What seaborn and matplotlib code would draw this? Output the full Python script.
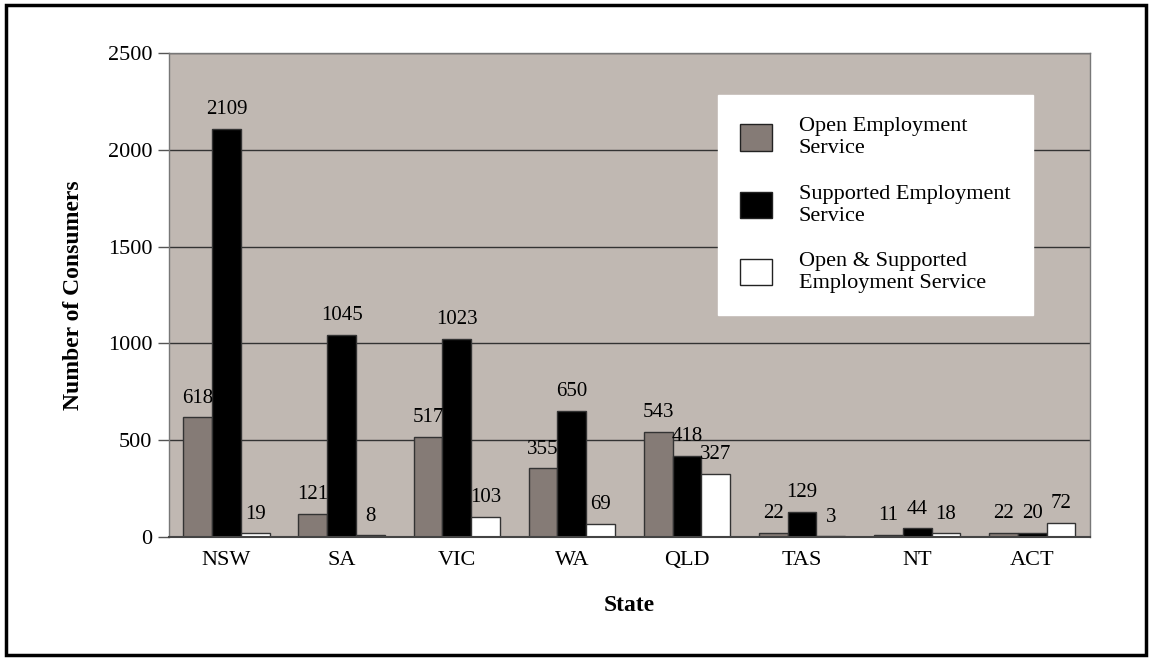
import matplotlib
matplotlib.use("Agg")
import matplotlib.pyplot as plt
from matplotlib.patches import Rectangle
import pandas as pd
import seaborn as sns

states = ["NSW", "SA", "VIC", "WA", "QLD", "TAS", "NT", "ACT"]
open_emp = [618, 121, 517, 355, 543, 22, 11, 22]
supported_emp = [2109, 1045, 1023, 650, 418, 129, 44, 20]
open_supported = [19, 8, 103, 69, 327, 3, 18, 72]
series = ["Open Employment\nService",
          "Supported Employment\nService",
          "Open & Supported\nEmployment Service"]
colors = ["#857b76", "#000000", "#ffffff"]

df = pd.DataFrame({"State": states * 3,
                   "Service": [series[0]] * 8 + [series[1]] * 8 + [series[2]] * 8,
                   "Consumers": open_emp + supported_emp + open_supported})

sns.set_theme(style="white")
plt.rcParams["font.family"] = ["Liberation Serif", "DejaVu Serif"]
plt.rcParams["text.color"] = "black"
plt.rcParams["xtick.color"] = "black"
plt.rcParams["ytick.color"] = "black"
plt.rcParams["axes.labelcolor"] = "black"

fig = plt.figure(figsize=(11.52, 6.6), dpi=100)
ax = fig.add_axes([0.1467, 0.1864, 0.7993, 0.7333])

sns.barplot(data=df, x="State", y="Consumers", hue="Service", order=states,
            hue_order=series, palette=colors, width=0.75, saturation=1,
            edgecolor="#333333", linewidth=1, ax=ax)

ax.set_facecolor("#c0b8b2")
ax.set_ylim(0, 2500)
ax.set_yticks(range(0, 2501, 500))
ax.set_axisbelow(True)
ax.yaxis.grid(True, color="#333333", linewidth=1)
ax.xaxis.grid(False)
ax.tick_params(axis="y", direction="out", length=8, width=1, color="#555555",
               labelsize=16, left=True, pad=4)
ax.tick_params(axis="x", length=0, labelsize=16, pad=10)
for side in ["top", "left", "right"]:
    ax.spines[side].set_color("#777777")
    ax.spines[side].set_linewidth(1)
ax.spines["bottom"].set_color("#444444")
ax.spines["bottom"].set_linewidth(1.5)

for cont in ax.containers:
    ax.bar_label(cont, fmt="%d", padding=7, fontsize=15)

ax.set_xlabel("State", fontsize=17, fontweight="bold", labelpad=18)
ax.set_ylabel("Number of Consumers", fontsize=17, fontweight="bold", labelpad=17)

leg = ax.legend(loc="upper left", bbox_to_anchor=(0.596, 0.913), fontsize=16,
                frameon=True, fancybox=False, framealpha=1, edgecolor="white",
                facecolor="white", handlelength=1.45, handleheight=1.45,
                labelspacing=1.2, borderpad=1.0, handletextpad=1.2,
                borderaxespad=0)
for h in leg.legend_handles:
    h.set_edgecolor("#222222")
    h.set_linewidth(1)

fig.patches.append(Rectangle((0.005, 0.008), 0.99, 0.984, transform=fig.transFigure,
                             fill=False, edgecolor="black", linewidth=2.5))

fig.savefig("out.png", dpi=100)
